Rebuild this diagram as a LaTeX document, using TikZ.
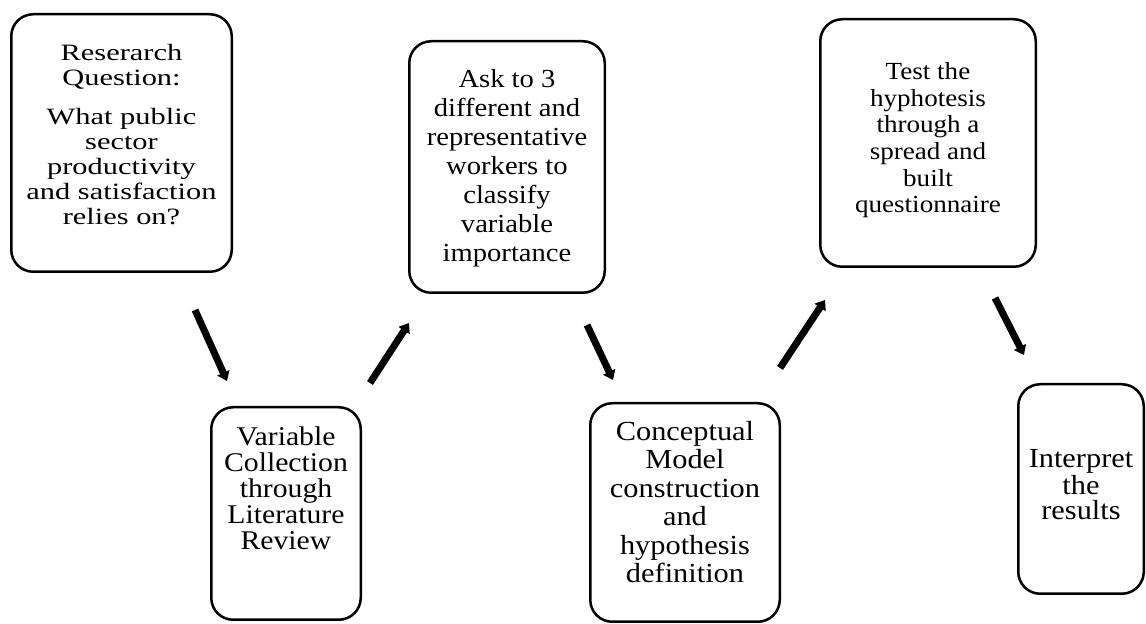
\documentclass[tikz,border=0pt]{standalone}
\usepackage{fontspec}
\setmainfont{Liberation Serif}
\newfontfamily\stagefont[FakeStretch=1.1]{Liberation Serif}
\newfontfamily\widefont[FakeStretch=1.3]{Liberation Serif}
\usepackage{tikz}
\usetikzlibrary{arrows.meta}
% height, width, space above the first line, text
\newcommand{\stagetext}[4]{\parbox[c][#1][t]{#2}{\centering\vspace*{#3}#4}}

\begin{document}
\begin{tikzpicture}[x=0.5pt,y=-0.5pt,
  stage/.style={draw,line width=1.25pt,rounded corners=11pt,inner sep=0pt},
  flow/.style={line width=3.5pt,-{Triangle[width=6.5pt,length=4.5pt]}}]
\useasboundingbox (0,0) rectangle (1146,624);
\node [stage] (question) at (121.5,143) {\stagetext{128.75pt}{110.25pt}{15pt}{\widefont\fontsize{11.7}{12.5}\selectfont
  Reserarch\\Question:\\[7pt]What public\\sector\\productivity\\and satisfaction\\relies on?}};
\node [stage] (collect) at (286,513.5) {\stagetext{106.25pt}{74.75pt}{10pt}{\stagefont\fontsize{13.5}{13}\selectfont
  Variable\\Collection\\through\\Literature\\Review}};
\node [stage] (ask) at (507,167) {\stagetext{125.75pt}{97.75pt}{14pt}{\stagefont\fontsize{13}{14.5}\selectfont
  Ask to 3\\different and\\representative\\workers to\\classify\\variable\\importance}};
\node [stage] (model) at (685,512.5) {\stagetext{109.25pt}{94.75pt}{9pt}{\stagefont\fontsize{13.8}{14.25}\selectfont
  Conceptual\\Model\\construction\\and\\hypothesis\\definition}};
\node [stage] (test) at (928,143) {\stagetext{123.75pt}{107.75pt}{21.5pt}{\stagefont\fontsize{12.3}{13.35}\selectfont
  Test the\\hyphotesis\\through a\\spread and\\built\\questionnaire}};
\node [stage] (results) at (1081,489) {\stagetext{104.75pt}{62.75pt}{32.5pt}{\stagefont\fontsize{13.8}{12.5}\selectfont
  Interpret\\the\\results}};
% arrow ends
\coordinate (a1) at (195,310); \coordinate (b1) at (227,381);
\coordinate (a2) at (370,383); \coordinate (b2) at (409,323);
\coordinate (a3) at (587,325); \coordinate (b3) at (613,380);
\coordinate (a4) at (780,368); \coordinate (b4) at (825,300);
\coordinate (a5) at (995,298); \coordinate (b5) at (1024,355);
\draw [flow] (a1)--(b1);
\draw [flow] (a2)--(b2);
\draw [flow] (a3)--(b3);
\draw [flow] (a4)--(b4);
\draw [flow] (a5)--(b5);
\end{tikzpicture}
\end{document}
